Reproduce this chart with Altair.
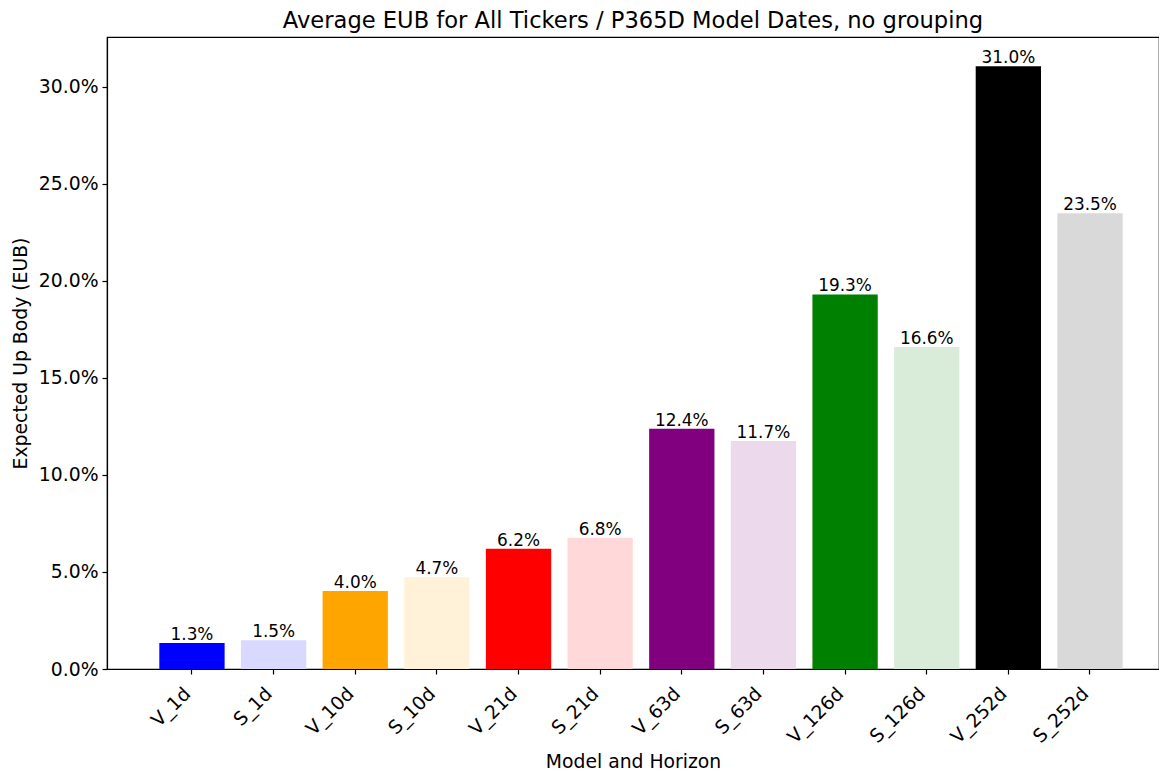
import altair as alt
import pandas as pd

categories = ["V_1d", "S_1d", "V_10d", "S_10d", "V_21d", "S_21d",
              "V_63d", "S_63d", "V_126d", "S_126d", "V_252d", "S_252d"]
values = [0.0134, 0.0148, 0.0402, 0.0472, 0.0619, 0.0676,
          0.1237, 0.1174, 0.1929, 0.1659, 0.3104, 0.2347]
colors = ["#0000ff", "#d9d9ff", "#ffa500", "#fff2d9", "#ff0000", "#ffd9d9",
          "#800080", "#ecd9ec", "#008000", "#d9ecd9", "#000000", "#d9d9d9"]

df = pd.DataFrame({"cat": categories, "val": values, "color": colors})

FONT = "DejaVu Sans"
FS = 18.8

x = alt.X("cat:N", sort=categories,
          scale=alt.Scale(paddingInner=0.2, paddingOuter=0.543, align=0.59),
          axis=alt.Axis(title="Model and Horizon", labelAngle=-45,
                        labelAlign="right", labelBaseline="top",
                        labelOffset=-11, labelPadding=10,
                        labelFontSize=FS, titleFontSize=FS,
                        labelColor="black", titleColor="black",
                        titleFontWeight="normal", titlePadding=6,
                        tickSize=5, tickColor="black",
                        domainColor="black", labelFont=FONT, titleFont=FONT))
y = alt.Y("val:Q", scale=alt.Scale(domain=[0, 0.3255], nice=False, zero=True),
          axis=alt.Axis(title="Expected Up Body (EUB)", format=".1%",
                        values=[0, 0.05, 0.10, 0.15, 0.20, 0.25, 0.30],
                        labelFontSize=FS, titleFontSize=FS,
                        labelColor="black", titleColor="black",
                        titleFontWeight="normal", titlePadding=8,
                        labelPadding=4, tickSize=5, tickColor="black",
                        domainColor="black", grid=False,
                        labelFont=FONT, titleFont=FONT))

bars = alt.Chart(df).mark_bar().encode(
    x=x, y=y,
    color=alt.Color("color:N", scale=None),
)

labels = alt.Chart(df).mark_text(
    baseline="bottom", dy=1, fontSize=16.9, font=FONT, color="black"
).encode(
    x=alt.X("cat:N", sort=categories),
    y=alt.Y("val:Q"),
    text=alt.Text("val:Q", format=".1%"),
)

chart = alt.layer(bars, labels).properties(
    width=1052, height=632,
    title=alt.Title("Average EUB for All Tickers / P365D Model Dates, no grouping",
                    fontSize=22.6, font=FONT, fontWeight="normal",
                    color="black", offset=4),
    autosize=alt.AutoSizeParams(type="none"),
    padding={"left": 99, "top": 29, "right": 0, "bottom": 102},
).configure_view(
    stroke="black", strokeWidth=1.2
).configure_axis(domainWidth=1.2, tickWidth=1.2)

chart.save("out.html", embed_options={"renderer": "svg", "actions": False})
